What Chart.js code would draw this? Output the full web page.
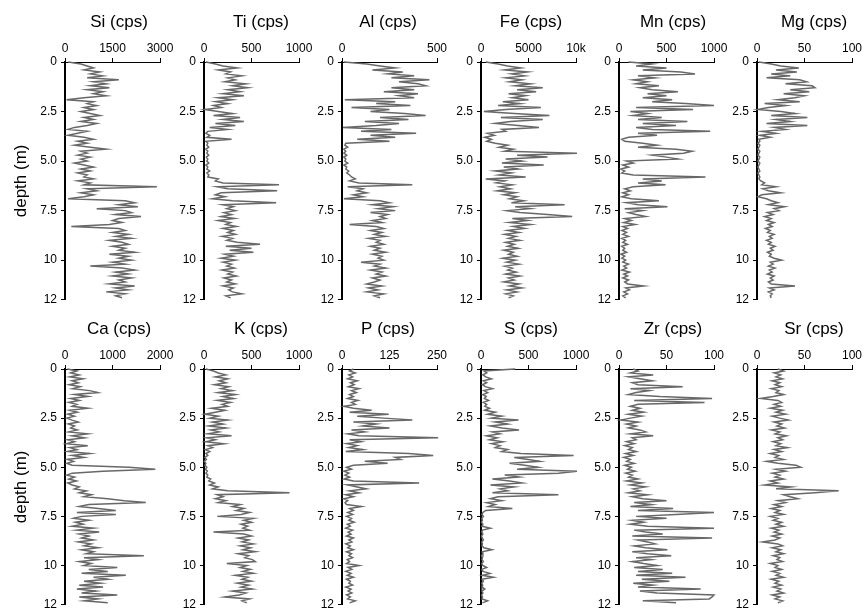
<!DOCTYPE html>
<html>
<head>
    <title>XRF core scan profiles</title>
    <script src="https://cdn.jsdelivr.net/npm/chart.js"></script>
    <style>
        body { margin: 0; background: #fff; }
        #wrap { position: relative; width: 866px; height: 616px; overflow: hidden; }
        #wrap canvas { position: absolute; }
    </style>
</head>
<body>
<div id="wrap"></div>
<script>
    // sample depths (m)
    const depth = [
        0.0, 0.1, 0.2, 0.3, 0.4, 0.5, 0.6, 0.7, 0.8, 0.9,
        1.0, 1.1, 1.2, 1.3, 1.4, 1.5, 1.6, 1.7, 1.8, 1.9,
        2.0, 2.1, 2.2, 2.3, 2.4, 2.5, 2.6, 2.7, 2.8, 2.9,
        3.0, 3.1, 3.2, 3.3, 3.4, 3.5, 3.6, 3.7, 3.8, 3.9,
        4.0, 4.1, 4.2, 4.3, 4.4, 4.5, 4.6, 4.7, 4.8, 4.9,
        5.0, 5.1, 5.2, 5.3, 5.4, 5.5, 5.6, 5.7, 5.8, 5.9,
        6.0, 6.1, 6.2, 6.3, 6.4, 6.5, 6.6, 6.7, 6.8, 6.9,
        7.0, 7.1, 7.2, 7.3, 7.4, 7.5, 7.6, 7.7, 7.8, 7.9,
        8.0, 8.1, 8.2, 8.3, 8.4, 8.5, 8.6, 8.7, 8.8, 8.9,
        9.0, 9.1, 9.2, 9.3, 9.4, 9.5, 9.6, 9.7, 9.8, 9.9,
        10.0, 10.1, 10.2, 10.3, 10.4, 10.5, 10.6, 10.7, 10.8, 10.9,
        11.0, 11.1, 11.2, 11.3, 11.4, 11.5, 11.6, 11.7, 11.8, 11.9
    ];
    const depthTicks = [0, 2.5, 5, 7.5, 10, 12];
    const depthLabels = ['0', '2.5', '5.0', '7.5', '10', '12'];

    // counts per second, one row per metre
    const si = [
        100, 500, 700, 900, 600, 1100, 800, 1200, 700, 1700,
        900, 1300, 800, 1400, 700, 1200, 900, 1300, 600, 50,
        900, 700, 1000, 600, 900, 500, 800, 1100, 600, 900,
        500, 1000, 700, 300, 100, 700, 400, 100, 600, 900,
        400, 700, 300, 800, 1300, 500, 700, 400, 800, 500,
        700, 300, 600, 900, 500, 800, 400, 700, 600, 900,
        400, 800, 600, 2900, 700, 1000, 500, 900, 600, 100,
        1900, 2200, 1700, 2300, 1000, 1900, 2100, 1600, 2400, 1700,
        1500, 1800, 1400, 200, 1700, 1900, 1500, 2000, 1600, 2100,
        1400, 1800, 2000, 1500, 1900, 1700, 2200, 1400, 2000, 1700,
        2100, 1500, 1900, 800, 1800, 2200, 1600, 2000, 1500, 2100,
        1700, 1900, 1400, 2200, 1600, 2000, 1300, 1900, 1600, 1800
    ];
    const ti = [
        20, 120, 200, 350, 150, 280, 230, 400, 250, 330,
        220, 440, 300, 460, 250, 380, 200, 420, 150, 300,
        120, 250, 100, 180, 10, 150, 300, 100, 380, 200,
        420, 120, 330, 60, 250, 40, 20, 60, 30, 290,
        20, 40, 30, 50, 20, 40, 30, 50, 25, 40,
        30, 50, 20, 40, 30, 60, 30, 50, 40, 150,
        120, 200, 790, 140, 250, 770, 180, 120, 220, 90,
        300, 760, 200, 310, 240, 330, 210, 290, 180, 320,
        150, 280, 230, 340, 200, 310, 250, 330, 190, 300,
        240, 350, 590, 230, 500, 270, 520, 220, 310, 180,
        330, 200, 290, 240, 320, 190, 300, 250, 340, 210,
        290, 240, 330, 200, 310, 260, 300, 400, 230, 280
    ];
    const al = [
        10, 130, 200, 280, 160, 320, 240, 380, 260, 460,
        300, 400, 440, 260, 380, 220, 400, 300, 380, 15,
        280, 180, 360, 50, 250, 150, 330, 440, 200, 350,
        120, 300, 180, 5, 260, 100, 390, 150, 280, 80,
        250, 20, 15, 30, 10, 20, 10, 25, 10, 20,
        15, 30, 10, 25, 20, 35, 25, 40, 50, 70,
        40, 90, 370, 30, 110, 80, 130, 60, 110, 10,
        200, 250, 160, 270, 190, 280, 150, 240, 200, 230,
        160, 210, 40, 180, 220, 150, 210, 170, 230, 140,
        200, 180, 220, 150, 200, 170, 230, 160, 210, 190,
        220, 100, 200, 170, 230, 150, 210, 180, 230, 160,
        200, 170, 130, 210, 140, 190, 130, 220, 170, 200
    ];
    const fe = [
        500, 1800, 2800, 4200, 2500, 4900, 3200, 4600, 2600, 4300,
        3000, 5200, 3600, 6500, 3800, 5800, 2900, 4700, 3300, 5000,
        2300, 4100, 1800, 6300, 2600, 300, 3500, 7200, 2100, 6500,
        3100, 1500, 3900, 6100, 2200, 2600, 700, 1400, 400, 1100,
        600, 1500, 2800, 1900, 3400, 2500, 10100, 3800, 7000, 2600,
        4300, 2200, 6600, 2400, 3900, 1500, 3200, 1900, 4700, 500,
        2500, 1600, 3300, 2000, 3100, 1700, 3600, 2400, 3800, 3000,
        4500, 3200, 8800, 3600, 5200, 2700, 4100, 7000, 9600, 3300,
        4900, 3000, 5200, 3400, 4600, 2800, 4000, 2500, 3700, 2900,
        4100, 2600, 3500, 2800, 3900, 2400, 3400, 2900, 3800, 2300,
        3600, 2700, 4000, 2500, 3300, 2800, 3700, 2600, 4100, 2900,
        3500, 2400, 4000, 3000, 4300, 2700, 3800, 2600, 3400, 2900
    ];
    const mn = [
        100, 350, 180, 500, 250, 650, 800, 200, 380, 150,
        300, 180, 420, 220, 350, 620, 300, 500, 250, 560,
        350, 700, 1000, 180, 780, 120, 300, 150, 450, 200,
        720, 250, 600, 180, 350, 960, 200, 400, 100, 30,
        60, 250, 400, 200, 600, 770, 680, 350, 500, 620,
        80, 150, 40, 100, 20, 60, 30, 150, 910, 250,
        450, 200, 490, 150, 60, 120, 40, 100, 30, 130,
        420, 80, 200, 510, 60, 250, 100, 180, 280, 60,
        130, 50, 170, 40, 90, 30, 80, 40, 100, 30,
        70, 40, 90, 30, 60, 40, 80, 20, 60, 30,
        70, 40, 100, 50, 80, 30, 110, 50, 90, 40,
        100, 60, 90, 260, 70, 110, 50, 90, 40, 70
    ];
    const mg = [
        2, 15, 25, 44, 20, 42, 15, 35, 10, 45,
        52, 30, 58, 61, 35, 55, 28, 50, 40, 22,
        45, 8, 30, 12, 1, 25, 40, 15, 53, 20,
        35, 10, 53, 18, 30, 5, 20, 3, 14, 2,
        3, 1, 3, 2, 1, 3, 2, 1, 3, 2,
        1, 3, 2, 1, 2, 3, 1, 2, 3, 2,
        4, 8, 5, 20, 6, 12, 25, 5, 1, 10,
        15, 22, 12, 29, 18, 23, 11, 17, 8, 15,
        10, 18, 12, 16, 9, 14, 11, 18, 13, 16,
        10, 15, 12, 19, 14, 17, 11, 15, 13, 18,
        26, 14, 17, 12, 19, 13, 16, 11, 18, 14,
        17, 12, 15, 40, 13, 18, 12, 16, 14, 15
    ];
    const ca = [
        50, 250, 120, 300, 100, 380, 150, 280, 90, 320,
        160, 520, 690, 200, 480, 120, 300, 80, 250, 150,
        480, 100, 260, 60, 200, 40, 150, 280, 70, 200,
        120, 260, 80, 480, 150, 410, 60, 200, 30, 480,
        100, 250, 60, 520, 150, 400, 50, 180, 40, 150,
        1350, 1900, 800, 150, 40, 200, 80, 240, 60, 150,
        300, 200, 450, 300, 560, 400, 900, 1250, 1700, 500,
        300, 700, 1070, 250, 1070, 350, 180, 500, 220, 380,
        150, 600, 250, 720, 300, 500, 350, 600, 280, 550,
        400, 700, 350, 600, 450, 1660, 400, 700, 300, 550,
        400, 1100, 500, 900, 350, 1280, 600, 900, 400, 750,
        300, 800, 250, 650, 350, 1100, 300, 700, 400, 900
    ];
    const k = [
        20, 100, 150, 230, 120, 250, 160, 230, 110, 260,
        180, 300, 150, 330, 200, 310, 140, 280, 190, 250,
        80, 220, 120, 10, 150, 60, 250, 90, 200, 50,
        230, 70, 160, 40, 290, 30, 120, 20, 210, 40,
        90, 15, 60, 20, 40, 10, 25, 5, 20, 10,
        30, 15, 35, 20, 40, 30, 70, 50, 110, 60,
        150, 90, 250, 900, 140, 200, 120, 230, 150, 380,
        300, 420, 340, 480, 390, 140, 520, 420, 500, 390,
        460, 410, 480, 100, 420, 500, 360, 470, 400, 520,
        380, 490, 410, 540, 360, 470, 430, 510, 540, 240,
        450, 380, 490, 410, 520, 330, 460, 400, 500, 350,
        470, 390, 510, 300, 440, 370, 220, 480, 400, 450
    ];
    const p = [
        30, 20, 35, 18, 28, 15, 40, 22, 32, 17,
        45, 25, 38, 20, 30, 15, 42, 25, 35, 5,
        30, 78, 20, 123, 40, 110, 185, 30, 90, 55,
        125, 25, 60, 15, 45, 253, 20, 50, 12, 40,
        18, 55, 10, 176, 240, 140, 154, 60, 120, 30,
        12, 25, 5, 18, 8, 20, 6, 30, 203, 15,
        40, 64, 20, 45, 10, 30, 5, 15, 8, 12,
        51, 20, 30, 15, 28, 12, 25, 18, 32, 14,
        22, 10, 28, 16, 24, 12, 30, 18, 26, 10,
        22, 15, 30, 12, 25, 18, 28, 14, 20, 12,
        45, 16, 26, 10, 24, 14, 30, 12, 22, 18,
        28, 10, 24, 16, 26, 12, 22, 15, 35, 20
    ];
    const s = [
        360, 30, 60, 20, 50, 110, 25, 60, 15, 45,
        120, 30, 70, 20, 55, 35, 80, 25, 60, 40,
        90, 40, 150, 70, 220, 110, 395, 150, 280, 100,
        220, 400, 120, 200, 60, 170, 90, 230, 110, 200,
        150, 280, 220, 420, 975, 350, 500, 620, 300, 460,
        600, 380, 1010, 815, 250, 400, 120, 300, 430, 100,
        350, 200, 280, 120, 815, 180, 100, 220, 60, 150,
        80, 330, 50, 20, 10, 25, 8, 15, 5, 20,
        10, 100, 15, 8, 20, 5, 12, 25, 8, 15,
        10, 30, 115, 12, 20, 6, 15, 10, 25, 8,
        18, 60, 10, 20, 95, 15, 130, 10, 25, 8,
        18, 12, 40, 10, 20, 6, 15, 10, 70, 15
    ];
    const zr = [
        15, 20, 12, 36, 10, 22, 35, 14, 20, 67,
        12, 32, 18, 10, 43, 98, 16, 90, 20, 12,
        22, 14, 26, 10, 24, 12, 2, 20, 8, 18,
        10, 22, 28, 12, 36, 14, 18, 8, 16, 6,
        14, 10, 18, 7, 15, 5, 12, 8, 16, 6,
        13, 9, 17, 7, 14, 10, 20, 8, 24, 12,
        28, 15, 22, 10, 30, 14, 25, 50, 16, 34,
        12, 57, 20, 100, 60, 18, 50, 14, 26, 12,
        30, 100, 16, 28, 46, 14, 98, 20, 30, 38,
        16, 28, 51, 14, 30, 55, 18, 34, 14, 26,
        40, 16, 46, 20, 56, 18, 70, 24, 53, 15,
        36, 20, 86, 22, 40, 100, 98, 95, 25, 60
    ];
    const sr = [
        22, 28, 18, 25, 20, 27, 16, 24, 19, 26,
        15, 23, 20, 28, 17, 4, 22, 26, 18, 25,
        14, 27, 20, 30, 16, 24, 33, 18, 26, 21,
        29, 15, 24, 19, 31, 22, 27, 17, 25, 20,
        32, 18, 26, 14, 23, 19, 28, 10, 22, 41,
        46, 20, 30, 16, 24, 19, 28, 14, 22, 8,
        36, 20, 86, 61, 28, 35, 43, 22, 30, 18,
        26, 15, 24, 19, 28, 14, 22, 17, 26, 20,
        28, 15, 23, 18, 26, 16, 24, 19, 6, 22,
        27, 16, 25, 20, 28, 17, 24, 21, 27, 14,
        22, 19, 26, 16, 24, 20, 28, 15, 23, 19,
        26, 17, 25, 21, 28, 16, 24, 19, 27, 22
    ];

    // top-axis ticks of each panel
    const siTicks = [0, 1500, 3000];
    const tiTicks = [0, 500, 1000];
    const alTicks = [0, 500];
    const feTicks = [0, 5000, 10000];
    const mnTicks = [0, 500, 1000];
    const mgTicks = [0, 50, 100];
    const caTicks = [0, 1000, 2000];
    const kTicks = [0, 500, 1000];
    const pTicks = [0, 125, 250];
    const sTicks = [0, 500, 1000];
    const zrTicks = [0, 50, 100];
    const srTicks = [0, 50, 100];

    const panels = [
        [
            { name: 'Si', values: si, ticks: siTicks },
            { name: 'Ti', values: ti, ticks: tiTicks },
            { name: 'Al', values: al, ticks: alTicks },
            { name: 'Fe', values: fe, ticks: feTicks },
            { name: 'Mn', values: mn, ticks: mnTicks },
            { name: 'Mg', values: mg, ticks: mgTicks }
        ],
        [
            { name: 'Ca', values: ca, ticks: caTicks },
            { name: 'K', values: k, ticks: kTicks },
            { name: 'P', values: p, ticks: pTicks },
            { name: 'S', values: s, ticks: sTicks },
            { name: 'Zr', values: zr, ticks: zrTicks },
            { name: 'Sr', values: sr, ticks: srTicks }
        ]
    ];

    // page layout (px)
    const colX = [65, 204, 342, 481, 619, 757];   // left edge of each plot
    const titleX = [119, 261, 388, 531, 673, 814];
    const plotW = 95;
    const rows = [
        { top: 0, areaTop: 62, areaBottom: 303, height: 311, titleY: 22 },
        { top: 310, areaTop: 369, areaBottom: 609, height: 306, titleY: 329 }
    ];

    Chart.defaults.font.family = '"Liberation Sans", Arial, sans-serif';
    Chart.defaults.color = '#000';

    const panelTitle = {
        id: 'panelTitle',
        afterDraw(chart, args, opts) {
            const ctx = chart.ctx;
            ctx.save();
            ctx.font = '17px "Liberation Sans", Arial, sans-serif';
            ctx.fillStyle = '#000';
            ctx.textAlign = 'center';
            ctx.textBaseline = 'middle';
            ctx.fillText(opts.text, opts.x, opts.y);
            ctx.restore();
        }
    };

    const fmt = v => v >= 10000 ? (v / 1000) + 'k' : String(v);
    const wrap = document.getElementById('wrap');

    panels.forEach((row, r) => {
        const R = rows[r];
        row.forEach((pn, c) => {
            const axW = c === 0 ? 65 : 50;
            const left = colX[c] - axW;
            const w = axW + plotW + 25;
            const cv = document.createElement('canvas');
            cv.width = w;
            cv.height = R.height;
            cv.style.left = left + 'px';
            cv.style.top = R.top + 'px';
            cv.style.width = w + 'px';
            cv.style.height = R.height + 'px';
            wrap.appendChild(cv);

            new Chart(cv, {
                type: 'line',
                data: {
                    datasets: [{
                        data: depth.map((d, i) => ({ x: pn.values[i], y: d })),
                        borderColor: '#686868',
                        borderWidth: 1.5,
                        pointRadius: 0,
                        fill: false,
                        tension: 0,
                        clip: false
                    }]
                },
                options: {
                    responsive: false,
                    animation: false,
                    indexAxis: 'y',
                    layout: { padding: { left: 0, right: 25, top: 0, bottom: R.height - (R.areaBottom - R.top) } },
                    plugins: {
                        legend: { display: false },
                        tooltip: { enabled: false },
                        panelTitle: { text: pn.name + ' (cps)', x: titleX[c] - left, y: R.titleY - R.top }
                    },
                    scales: {
                        x: {
                            type: 'linear',
                            position: 'top',
                            min: 0,
                            max: pn.ticks[pn.ticks.length - 1],
                            afterBuildTicks: sc => { sc.ticks = pn.ticks.map(v => ({ value: v })); },
                            afterFit: sc => { sc.height = R.areaTop - R.top; },
                            ticks: { callback: v => fmt(v), font: { size: 12 }, color: '#000', padding: 2, maxRotation: 0, autoSkip: false },
                            grid: { drawOnChartArea: false, drawTicks: true, tickLength: 4, color: '#000' },
                            border: { display: true, color: '#000', width: 1 }
                        },
                        y: {
                            type: 'linear',
                            reverse: true,
                            min: 0,
                            max: 12,
                            afterBuildTicks: sc => { sc.ticks = depthTicks.map(v => ({ value: v })); },
                            afterFit: sc => { sc.width = axW; },
                            ticks: { callback: (v, i) => depthLabels[i], font: { size: 12 }, color: '#000', padding: 4, autoSkip: false },
                            grid: { drawOnChartArea: false, drawTicks: true, tickLength: 4, color: '#000' },
                            border: { display: true, color: '#000', width: 2 },
                            title: {
                                display: c === 0,
                                text: 'depth (m)',
                                font: { size: 17 },
                                color: '#000',
                                padding: { top: 11, bottom: 0 }
                            }
                        }
                    }
                },
                plugins: [panelTitle]
            });
        });
    });
</script>
</body>
</html>
